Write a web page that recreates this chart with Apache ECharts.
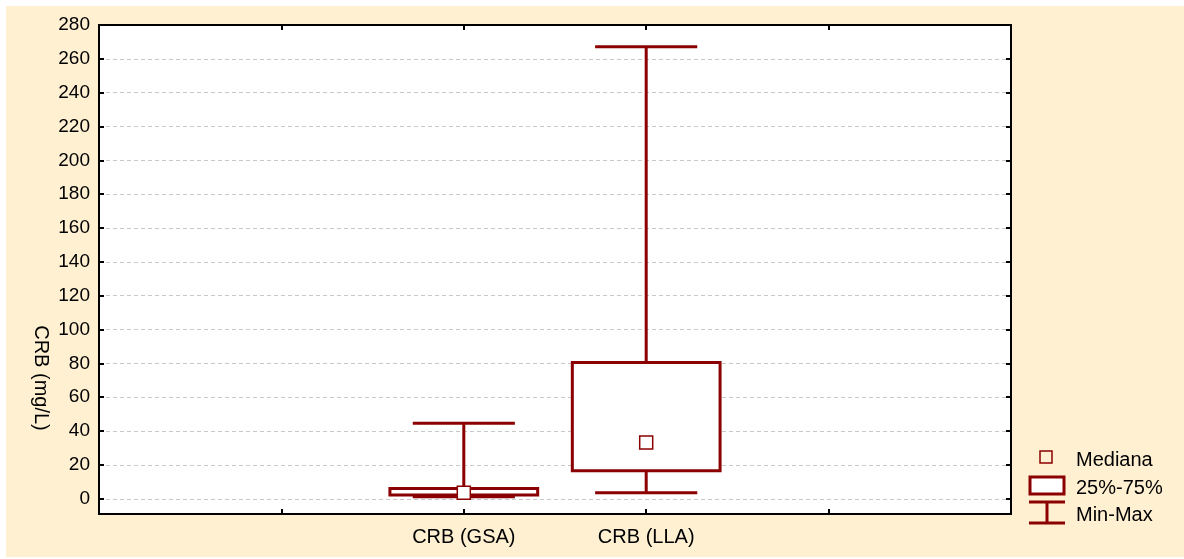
<!DOCTYPE html>
<html>
<head>
<meta charset="utf-8">
<script src="https://cdn.jsdelivr.net/npm/echarts@6/dist/echarts.min.js"></script>
<style>
html,body{margin:0;padding:0;background:#fff;}
#c{width:1184px;height:559px;}
</style>
</head>
<body>
<div id="c"></div>
<script>
// ---- data ----
const categories = ['', '', 'CRB (GSA)', 'CRB (LLA)', '', ''];
const boxCategoryIndex = [2, 3];
const minValues = [1.2, 3.5];
const q1Values = [2.2, 16.5];
const medianValues = [3.5, 33.3];
const q3Values = [6.0, 80.5];
const maxValues = [44.6, 267.2];
const yTickValues = [0, 20, 40, 60, 80, 100, 120, 140, 160, 180, 200, 220, 240, 260, 280];
const yGridValues = [0, 20, 40, 60, 80, 100, 120, 140, 160, 180, 200, 220, 240, 260];
const legendLabels = ['Mediana', '25%-75%', 'Min-Max'];
const yAxisTitle = 'CRB (mg/L)';

const RED = '#8B0000';
const FONT = 'Liberation Sans, Arial, sans-serif';

const boxData = boxCategoryIndex.map((c, i) => [c, minValues[i], q1Values[i], medianValues[i], q3Values[i], maxValues[i]]);

const chart = echarts.init(document.getElementById('c'));

function renderBox(params, api) {
  const x = api.value(0);
  const pMin = api.coord([x, api.value(1)]);
  const pQ1 = api.coord([x, api.value(2)]);
  const pMed = api.coord([x, api.value(3)]);
  const pQ3 = api.coord([x, api.value(4)]);
  const pMax = api.coord([x, api.value(5)]);
  const band = api.size([1, 0])[0];
  const boxHalf = band * 0.405;
  const capHalf = band * 0.28;
  const cx = pMed[0];
  const lineStyle = { stroke: RED, lineWidth: 3, fill: null };
  const sq = 13;
  return {
    type: 'group',
    children: [
      { type: 'line', shape: { x1: cx, y1: pMax[1], x2: cx, y2: pQ3[1] }, style: lineStyle },
      { type: 'line', shape: { x1: cx, y1: pQ1[1], x2: cx, y2: pMin[1] }, style: lineStyle },
      { type: 'line', shape: { x1: cx - capHalf, y1: pMax[1], x2: cx + capHalf, y2: pMax[1] }, style: lineStyle },
      { type: 'line', shape: { x1: cx - capHalf, y1: pMin[1], x2: cx + capHalf, y2: pMin[1] }, style: lineStyle },
      { type: 'rect', shape: { x: cx - boxHalf, y: pQ3[1], width: boxHalf * 2, height: pQ1[1] - pQ3[1] },
        style: { stroke: RED, lineWidth: 3, fill: '#fff' } },
      { type: 'rect', shape: { x: cx - sq / 2, y: pMed[1] - sq / 2, width: sq, height: sq },
        style: { stroke: RED, lineWidth: 1.5, fill: '#fff' } }
    ]
  };
}

const yAxisCommon = {
  type: 'value',
  min: -9,
  max: 280,
  axisLine: { show: true, onZero: false, lineStyle: { color: '#000', width: 2 } },
  axisTick: { show: true, inside: true, length: 5, customValues: yTickValues, lineStyle: { color: '#000', width: 2 } },
  splitLine: { show: false }
};

const xAxisCommon = {
  type: 'category', data: categories, boundaryGap: false,
  axisLine: { show: true, onZero: false, lineStyle: { color: '#000', width: 2 } },
  axisTick: { show: true, inside: true, length: 5, interval: 0, lineStyle: { color: '#000', width: 2 } },
  splitLine: { show: false }
};

const option = {
  backgroundColor: '#FFF0D2',
  animation: false,
  grid: {
    left: 99, top: 25, right: 173, bottom: 45,
    show: true, backgroundColor: '#fff', borderColor: '#000', borderWidth: 2
  },
  xAxis: [
    Object.assign({}, xAxisCommon, {
      position: 'bottom',
      axisLabel: { interval: 0, margin: 13, color: '#000', fontSize: 20, fontFamily: FONT }
    }),
    Object.assign({}, xAxisCommon, {
      position: 'top',
      axisLabel: { show: false }
    })
  ],
  yAxis: [
    Object.assign({}, yAxisCommon, {
      position: 'left',
      axisLabel: { customValues: yTickValues, margin: 9, color: '#000', fontSize: 19, fontFamily: FONT },
      splitLine: { show: true, lineStyle: { color: '#C8C8C8', type: [4, 3], width: 1 } }
    }),
    Object.assign({}, yAxisCommon, {
      position: 'right',
      axisLabel: { show: false }
    })
  ],
  series: [{
    type: 'custom',
    xAxisIndex: 0,
    yAxisIndex: 0,
    renderItem: renderBox,
    data: boxData,
    z: 5
  }],
  graphic: [
    { type: 'rect', shape: { x: 0, y: 0, width: 1184, height: 6 }, style: { fill: '#fff' } },
    { type: 'rect', shape: { x: 0, y: 0, width: 6, height: 559 }, style: { fill: '#fff' } },
    { type: 'rect', shape: { x: 0, y: 557, width: 1184, height: 2 }, style: { fill: '#fff' } },
    { type: 'text', x: 41, y: 378, rotation: -Math.PI / 2,
      style: { text: yAxisTitle, font: '20px ' + FONT, fill: '#000', textAlign: 'center', textVerticalAlign: 'middle' } },
    // legend: median
    { type: 'rect', shape: { x: 1040, y: 451, width: 12, height: 12 }, style: { stroke: RED, lineWidth: 1.5, fill: null } },
    { type: 'text', x: 1076, y: 460, style: { text: legendLabels[0], font: '20px ' + FONT, fill: '#000', textVerticalAlign: 'middle' } },
    // legend: box
    { type: 'rect', shape: { x: 1030, y: 477, width: 34, height: 17 }, style: { stroke: RED, lineWidth: 3, fill: '#fff' } },
    { type: 'text', x: 1076, y: 488, style: { text: legendLabels[1], font: '20px ' + FONT, fill: '#000', textVerticalAlign: 'middle' } },
    // legend: min-max
    { type: 'line', shape: { x1: 1029, y1: 502, x2: 1065, y2: 502 }, style: { stroke: RED, lineWidth: 3 } },
    { type: 'line', shape: { x1: 1047, y1: 502, x2: 1047, y2: 523 }, style: { stroke: RED, lineWidth: 3 } },
    { type: 'line', shape: { x1: 1029, y1: 523, x2: 1065, y2: 523 }, style: { stroke: RED, lineWidth: 3 } },
    { type: 'text', x: 1076, y: 515, style: { text: legendLabels[2], font: '20px ' + FONT, fill: '#000', textVerticalAlign: 'middle' } }
  ]
};

chart.setOption(option);
</script>
</body>
</html>
